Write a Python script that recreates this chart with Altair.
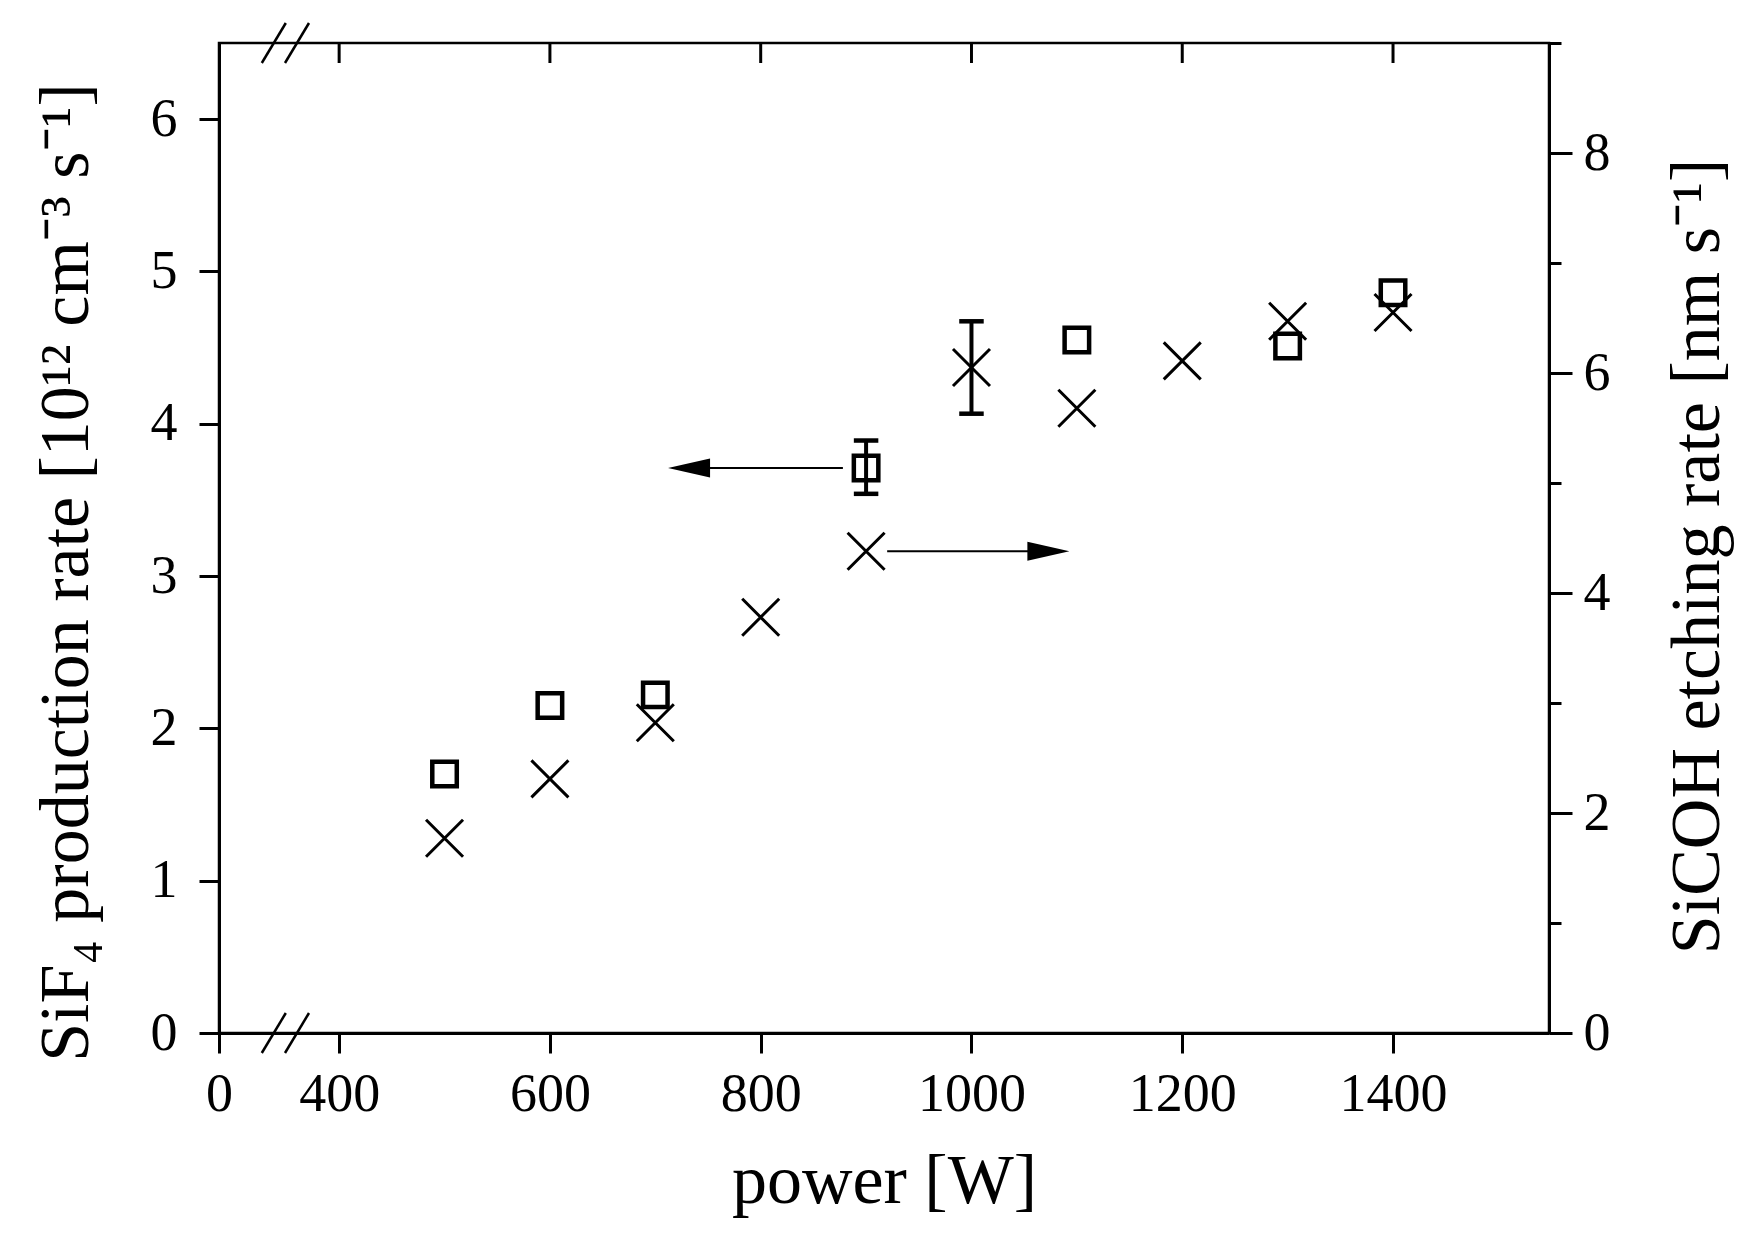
import altair as alt
import pandas as pd

FONT = "Liberation Serif"

# ---------------- data ----------------
# broken x axis: the left edge of the plot is labelled "0"
x_left_edge = 286
x_right_edge = 1548
x_tick_values = [286, 400, 600, 800, 1000, 1200, 1400]
top_tick_values = [400, 600, 800, 1000, 1200, 1400]

yl_tick_values = [0, 0.5, 1, 1.5, 2, 2.5, 3, 3.5, 4, 4.5, 5, 5.5, 6, 6.5]
yr_tick_values = [0, 1, 2, 3, 4, 5, 6, 7, 8, 9]

# SiF4 production rate (left axis, squares)
power_sif4 = [500, 600, 700, 900, 1100, 1300, 1400]
sif4_rate = [1.70, 2.15, 2.22, 3.71, 4.55, 4.51, 4.86]
sif4_err_power = [900, 900]
sif4_err_bounds = [3.54, 3.89]

# SiCOH etching rate (right axis, crosses)
power_sicoh = [500, 600, 700, 800, 900, 1000, 1100, 1200, 1300, 1400]
sicoh_rate = [1.77, 2.31, 2.82, 3.78, 4.38, 6.05, 5.68, 6.11, 6.47, 6.55]
sicoh_err_power = [1000, 1000]
sicoh_err_bounds = [5.63, 6.47]

# arrows (data units)
arrow_left_x = [735, 878]
arrow_left_y = [3.71, 3.71]
arrow_left_head_x = [732]
arrow_left_head_y = [3.71]
arrow_right_x = [920, 1070]
arrow_right_y = [4.38, 4.38]
arrow_right_head_x = [1073]
arrow_right_head_y = [4.38]

# axis-break marks
break_x = [338, 360, 338, 360]
break_y = [0, 0, 6.5, 6.5]

# ---------------- scales / axes ----------------
xscale = alt.Scale(domain=[x_left_edge, x_right_edge], nice=False, zero=False)
ylscale = alt.Scale(domain=[0, 6.5], nice=False, zero=True)
yrscale = alt.Scale(domain=[0, 9], nice=False, zero=True)

x_axis = alt.Axis(
    values=x_tick_values,
    format="d",
    labelExpr="datum.value < 300 ? '0' : datum.label",
    title="power [W]",
    tickSize=20,
    labelPadding=14,
    labelFlush=False,
    labelOverlap=False,
    titleBaseline="alphabetic",
    titleY=169,
    grid=False,
)

yl_axis = alt.Axis(
    values=yl_tick_values,
    format="d",
    labelExpr="datum.value % 1 == 0 ? datum.label : ''",
    tickSize={"condition": {"test": "datum.value % 1 == 0", "value": 20}, "value": 10},
    labelPadding=22,
    labelOverlap=False,
    title="SiF₄ production rate [10¹² cm⁻³ s⁻¹]",
    titleAngle=270,
    titleBaseline="alphabetic",
    titleAlign="center",
    titleX=-132,
    titleY=529,
    grid=False,
)

yr_axis = alt.Axis(
    orient="right",
    values=yr_tick_values,
    format="d",
    labelExpr="datum.value % 2 == 0 ? datum.label : ''",
    tickSize={"condition": {"test": "datum.value % 2 == 0", "value": 23}, "value": 12},
    labelPadding=11,
    labelOverlap=False,
    title="SiCOH etching rate [nm s⁻¹]",
    titleAngle=270,
    titleBaseline="alphabetic",
    titleAlign="center",
    titleX=169,
    titleY=513,
    grid=False,
)


def X(field):
    return alt.X(field, type="quantitative", scale=xscale, axis=x_axis)


def YL(field):
    return alt.Y(field, type="quantitative", scale=ylscale, axis=yl_axis)


def YR(field):
    return alt.Y(field, type="quantitative", scale=yrscale, axis=yr_axis)


# ---------------- left group ----------------
sq_df = pd.DataFrame({"power": power_sif4, "rate": sif4_rate})
squares = alt.Chart(sq_df).mark_point(
    shape="square", filled=False, size=600, strokeWidth=4.5, color="black", opacity=1
).encode(x=X("power"), y=YL("rate"))

sq_err_df = pd.DataFrame({"power": [sif4_err_power[0]], "lo": [sif4_err_bounds[0]], "hi": [sif4_err_bounds[1]]})
sq_err_rule = alt.Chart(sq_err_df).mark_rule(strokeWidth=4, color="black").encode(
    x=X("power"), y=YL("lo"), y2="hi:Q"
)
sq_cap_df = pd.DataFrame({"power": sif4_err_power, "v": sif4_err_bounds})
sq_caps = alt.Chart(sq_cap_df).mark_point(
    shape="M-1,0L1,0", size=600, strokeWidth=4.5, color="black", filled=False, opacity=1
).encode(x=X("power"), y=YL("v"))

al_df = pd.DataFrame({"x": arrow_left_x, "y": arrow_left_y})
arrow_l_line = alt.Chart(al_df).mark_line(strokeWidth=2, color="black").encode(x=X("x"), y=YL("y"))
alh_df = pd.DataFrame({"x": arrow_left_head_x, "y": arrow_left_head_y})
arrow_l_head = alt.Chart(alh_df).mark_point(
    shape="M-1,0L1,-0.45L1,0.45Z", size=1764, filled=True, color="black", opacity=1
).encode(x=X("x"), y=YL("y"))

br_df = pd.DataFrame({"x": break_x, "y": break_y})
breaks = alt.Chart(br_df).mark_point(
    shape="M-0.6,1L0.6,-1", size=1600, strokeWidth=2.5, filled=False, color="black", opacity=1
).encode(x=X("x"), y=YL("y"))

left = alt.layer(squares, sq_err_rule, sq_caps, arrow_l_line, arrow_l_head, breaks)

# ---------------- right group ----------------
cr_df = pd.DataFrame({"power": power_sicoh, "rate": sicoh_rate})
crosses = alt.Chart(cr_df).mark_point(
    shape="M-1,-1L1,1M-1,1L1,-1", filled=False, size=1369, strokeWidth=3, color="black", opacity=1
).encode(x=X("power"), y=YR("rate"))

cr_err_df = pd.DataFrame({"power": [sicoh_err_power[0]], "lo": [sicoh_err_bounds[0]], "hi": [sicoh_err_bounds[1]]})
cr_err_rule = alt.Chart(cr_err_df).mark_rule(strokeWidth=4, color="black").encode(
    x=X("power"), y=YR("lo"), y2="hi:Q"
)
cr_cap_df = pd.DataFrame({"power": sicoh_err_power, "v": sicoh_err_bounds})
cr_caps = alt.Chart(cr_cap_df).mark_point(
    shape="M-1,0L1,0", size=600, strokeWidth=4.5, color="black", filled=False, opacity=1
).encode(x=X("power"), y=YR("v"))

ar_df = pd.DataFrame({"x": arrow_right_x, "y": arrow_right_y})
arrow_r_line = alt.Chart(ar_df).mark_line(strokeWidth=2, color="black").encode(x=X("x"), y=YR("y"))
arh_df = pd.DataFrame({"x": arrow_right_head_x, "y": arrow_right_head_y})
arrow_r_head = alt.Chart(arh_df).mark_point(
    shape="M1,0L-1,-0.45L-1,0.45Z", size=1764, filled=True, color="black", opacity=1
).encode(x=X("x"), y=YR("y"))

right = alt.layer(crosses, cr_err_rule, cr_caps, arrow_r_line, arrow_r_head)

# ---------------- top (mirrored) ticks ----------------
tt_df = pd.DataFrame({"x": top_tick_values})
top_ticks = alt.Chart(tt_df).mark_rule(strokeWidth=3, color="black").encode(
    x=X("x"), y=alt.value(0), y2=alt.value(20)
)

chart = (
    alt.layer(left, right, top_ticks)
    .resolve_scale(y="independent")
    .properties(
        width=1330,
        height=990,
        background="white",
        autosize=alt.AutoSizeParams(type="none"),
        padding={"left": 211, "top": 35, "right": 197, "bottom": 202},
    )
    .configure_view(stroke="black", strokeWidth=2.5)
    .configure_axis(
        labelFont=FONT,
        titleFont=FONT,
        labelFontSize=54,
        titleFontSize=70,
        titleFontWeight="normal",
        labelColor="black",
        titleColor="black",
        domainColor="black",
        tickColor="black",
        tickWidth=3,
        domainWidth=3,
        grid=False,
    )
)

chart.save("out.html", embed_options={"renderer": "svg", "actions": False})
